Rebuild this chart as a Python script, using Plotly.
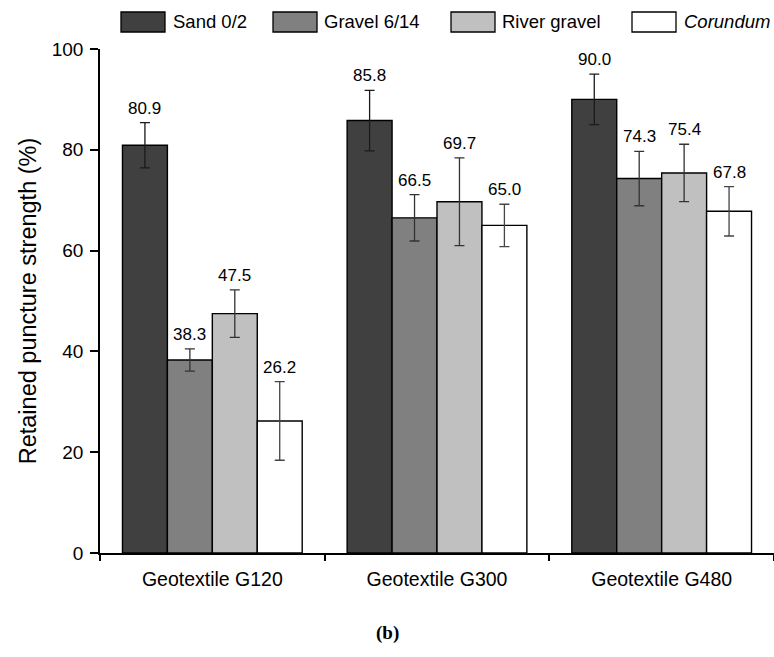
import plotly.graph_objects as go

categories = ["Geotextile G120", "Geotextile G300", "Geotextile G480"]
series_names = ["Sand 0/2", "Gravel 6/14", "River gravel", "Corundum"]
legend_labels = ["Sand 0/2", "Gravel 6/14", "River gravel", "<i>Corundum</i>"]
sand = [80.9, 85.8, 90.0]
gravel = [38.3, 66.5, 74.3]
river = [47.5, 69.7, 75.4]
corundum = [26.2, 65.0, 67.8]
sand_err = [4.5, 6.0, 5.0]
gravel_err = [2.2, 4.6, 5.4]
river_err = [4.7, 8.7, 5.7]
corundum_err = [7.8, 4.2, 4.9]
y_ticks = [0, 20, 40, 60, 80, 100]

values = [sand, gravel, river, corundum]
errors = [sand_err, gravel_err, river_err, corundum_err]
colors = ["#404040", "#808080", "#c0c0c0", "#ffffff"]
err_colors = ["#1a1a1a", "#333333", "#333333", "#444444"]

FONT = "Arial, 'Liberation Sans', sans-serif"

fig = go.Figure()
for name, vals, errs, col, ecol in zip(series_names, values, errors, colors, err_colors):
    fig.add_trace(go.Bar(
        x=categories, y=vals, name=name,
        marker=dict(color=col, line=dict(color="#000000", width=1.4)),
        error_y=dict(type="data", array=errs, visible=True,
                     color=ecol, thickness=1.3, width=5),
        showlegend=False,
    ))

# value labels above error bars
offsets = [-67.5, -22.5, 22.5, 67.5]
annotations = []
for vals, errs, off in zip(values, errors, offsets):
    for cat, v, e in zip(categories, vals, errs):
        annotations.append(dict(
            x=cat, y=v + e, xref="x", yref="y", text=f"{v:.1f}",
            showarrow=False, xshift=off, yanchor="bottom", yshift=3,
            font=dict(family=FONT, size=17, color="#000000"),
        ))

# custom legend (boxes + text above the plot)
shapes = []
W, H = 674.0, 504.0
legend_box_x = [121, 273, 451, 632]
legend_text_x = [171, 322, 500, 682]
box_w = 44
for bx, tx, col, lab in zip(legend_box_x, legend_text_x, colors, legend_labels):
    shapes.append(dict(type="rect", xref="paper", yref="paper",
                       x0=(bx - 100) / W, x1=(bx + box_w - 100) / W,
                       y0=(553 - 32) / H, y1=(553 - 12) / H,
                       fillcolor=col, line=dict(color="#000000", width=1.3)))
    annotations.append(dict(
        x=(tx - 100) / W, y=(553 - 22) / H, xref="paper", yref="paper",
        text=lab, showarrow=False, xanchor="left", yanchor="middle",
        font=dict(family=FONT, size=18.5, color="#000000"),
    ))

annotations.append(dict(
    x=(387 - 100) / W, y=-(633 - 553) / H, xref="paper", yref="paper",
    text="<b>(b)</b>", showarrow=False, xanchor="center", yanchor="middle",
    font=dict(family="'Times New Roman', 'Liberation Serif', serif", size=19, color="#000000"),
))

fig.update_layout(
    width=774, height=657,
    margin=dict(l=100, r=0, t=49, b=104),
    paper_bgcolor="white", plot_bgcolor="white",
    barmode="group", bargap=0.2, bargroupgap=0,
    font=dict(family=FONT, size=19, color="#000000"),
    shapes=shapes, annotations=annotations,
    xaxis=dict(
        type="category", range=[-0.5, 2.5],
        showline=True, linecolor="#000000", linewidth=1.5,
        ticks="outside", tickson="boundaries", ticklen=6, tickwidth=1.5, tickcolor="#000000",
        showgrid=False, zeroline=False, ticklabelstandoff=8,
        tickfont=dict(family=FONT, size=19.5),
    ),
    yaxis=dict(
        range=[0, 100], tickvals=y_ticks,
        showline=True, linecolor="#000000", linewidth=1.5,
        ticks="outside", ticklen=8, tickwidth=1.5, tickcolor="#000000",
        showgrid=False, zeroline=False, ticklabelstandoff=3,
        tickfont=dict(family=FONT, size=19),
        title=dict(text="Retained puncture strength (%)", font=dict(family=FONT, size=23.5), standoff=9),
    ),
)

fig.write_html(
    "out.html",
    config={"displayModeBar": False},
    post_script="document.body.style.margin='0';document.body.style.overflow='hidden';",
)
